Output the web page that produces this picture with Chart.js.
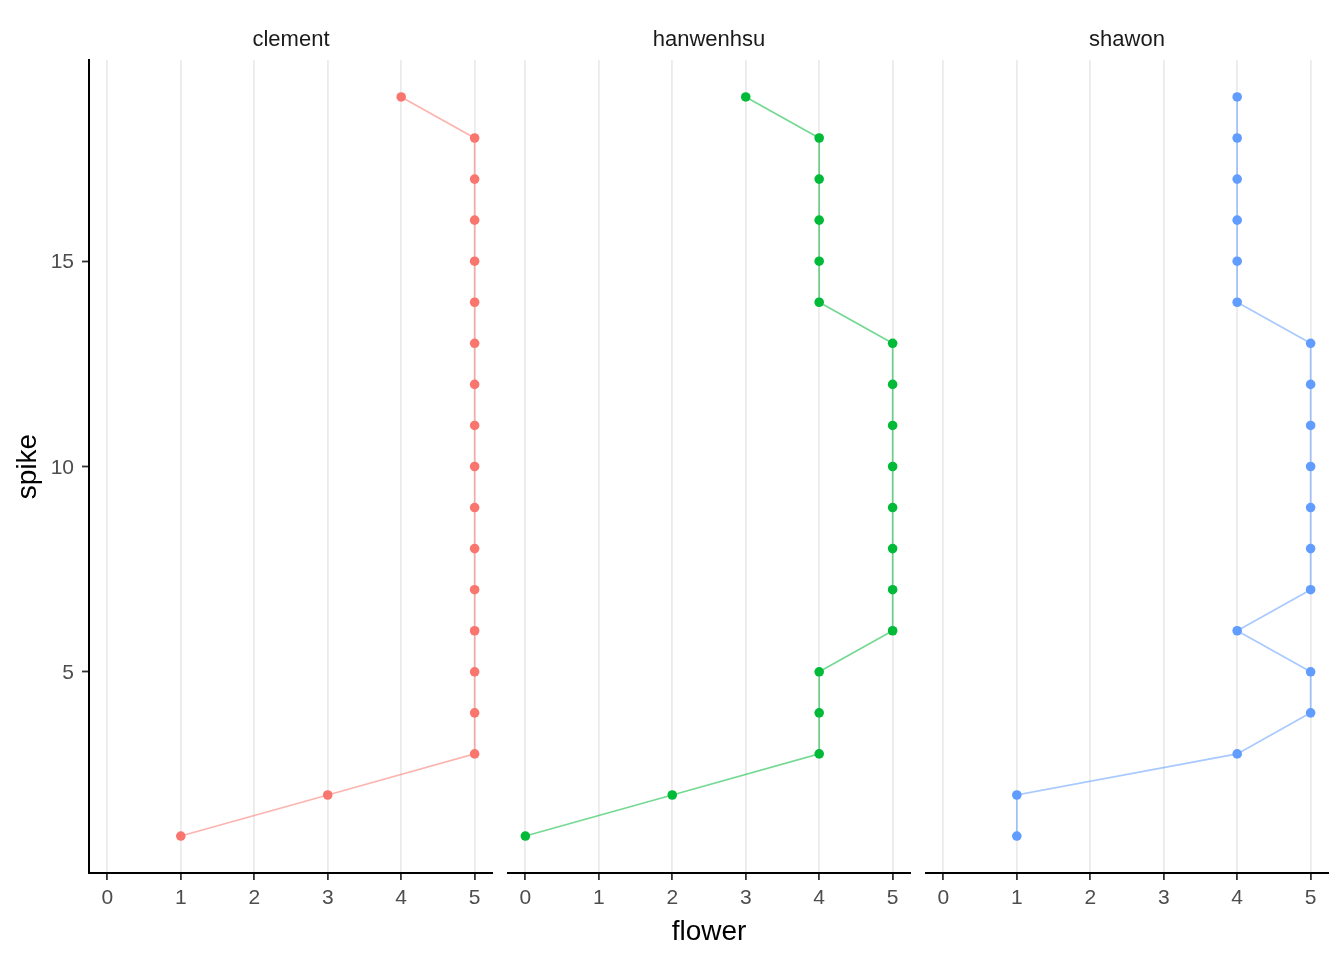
<!DOCTYPE html>
<html>
<head>
<meta charset="utf-8">
<script src="https://cdn.jsdelivr.net/npm/chart.js@4/dist/chart.umd.min.js"></script>
<style>
  body { margin: 0; background: #fff; }
  #wrap { position: relative; width: 1344px; height: 960px; }
  canvas { position: absolute; top: 0; }
</style>
</head>
<body>
<div id="wrap">
  <canvas id="c1" width="493" height="960" style="left:0px"></canvas>
  <canvas id="c2" width="404" height="960" style="left:507px"></canvas>
  <canvas id="c3" width="404" height="960" style="left:925px"></canvas>
</div>
<script>
const spike = [1, 2, 3, 4, 5, 6, 7, 8, 9, 10, 11, 12, 13, 14, 15, 16, 17, 18, 19];
const clementFlower = [1, 3, 5, 5, 5, 5, 5, 5, 5, 5, 5, 5, 5, 5, 5, 5, 5, 5, 4];
const hanwenhsuFlower = [0, 2, 4, 4, 4, 5, 5, 5, 5, 5, 5, 5, 5, 4, 4, 4, 4, 4, 3];
const shawonFlower = [1, 1, 4, 5, 5, 4, 5, 5, 5, 5, 5, 5, 5, 4, 4, 4, 4, 4, 4];
const xTicks = [0, 1, 2, 3, 4, 5];
const yTicks = [5, 10, 15];

const FONT = "'Liberation Sans', Arial, sans-serif";

// facet strip label drawn above each panel
const stripPlugin = {
  id: "strip",
  afterDraw(chart, args, opts) {
    const { ctx, chartArea } = chart;
    ctx.save();
    ctx.font = "22px " + FONT;
    ctx.fillStyle = "#1A1A1A";
    ctx.textAlign = "center";
    ctx.textBaseline = "middle";
    ctx.fillText(opts.text, (chartArea.left + chartArea.right) / 2, 40);
    ctx.restore();
  },
};

const makePanel = (id, name, flower, color, lineColor, showY, showXTitle) => {
  const points = spike.map((s, i) => ({ x: flower[i], y: s }));
  return new Chart(document.getElementById(id), {
    type: "scatter",
    data: {
      datasets: [
        {
          label: name,
          data: points,
          showLine: true,
          borderColor: lineColor,
          borderWidth: 1.7,
          backgroundColor: color,
          pointBackgroundColor: color,
          pointBorderWidth: 0,
          pointRadius: 4.8,
        },
      ],
    },
    options: {
      responsive: false,
      animation: false,
      devicePixelRatio: 1,
      layout: { padding: { top: 60, left: 0, right: 0, bottom: 0 }, autoPadding: false },
      plugins: {
        legend: { display: false },
        tooltip: { enabled: false },
        strip: { text: name },
      },
      scales: {
        x: {
          type: "linear",
          min: -0.25,
          max: 5.25,
          afterBuildTicks: (s) => { s.ticks = xTicks.map((v) => ({ value: v })); },
          afterFit: (s) => { s.height = 87; },
          grid: { color: "#EBEBEB", lineWidth: 1.8, tickColor: "#333333", tickLength: 7, tickWidth: 1.8 },
          border: { color: "#000000", width: 2 },
          ticks: { color: "#4D4D4D", font: { family: FONT, size: 21 }, padding: 6, maxRotation: 0 },
          title: {
            display: showXTitle,
            text: "flower",
            color: "#000000",
            font: { family: FONT, size: 28 },
            padding: { top: 0, bottom: 11 },
          },
        },
        y: {
          type: "linear",
          display: showY,
          min: 0.1,
          max: 19.9,
          afterBuildTicks: (s) => { s.ticks = yTicks.map((v) => ({ value: v })); },
          afterFit: (s) => { s.width = showY ? 89 : 0; },
          grid: { drawOnChartArea: false, tickColor: "#333333", tickLength: 7, tickWidth: 1.8 },
          border: { color: "#000000", width: 2 },
          ticks: { color: "#4D4D4D", font: { family: FONT, size: 21 }, padding: 8, labelOffset: 1.5 },
          title: {
            display: true,
            text: "spike",
            color: "#000000",
            font: { family: FONT, size: 28 },
            padding: { top: 11, bottom: 0 },
          },
        },
      },
    },
    plugins: [stripPlugin],
  });
};

makePanel("c1", "clement", clementFlower, "#F8766D", "rgba(248,118,109,0.55)", true, false);
makePanel("c2", "hanwenhsu", hanwenhsuFlower, "#00BA38", "rgba(0,186,56,0.55)", false, true);
makePanel("c3", "shawon", shawonFlower, "#619CFF", "rgba(97,156,255,0.55)", false, false);
</script>
</body>
</html>
